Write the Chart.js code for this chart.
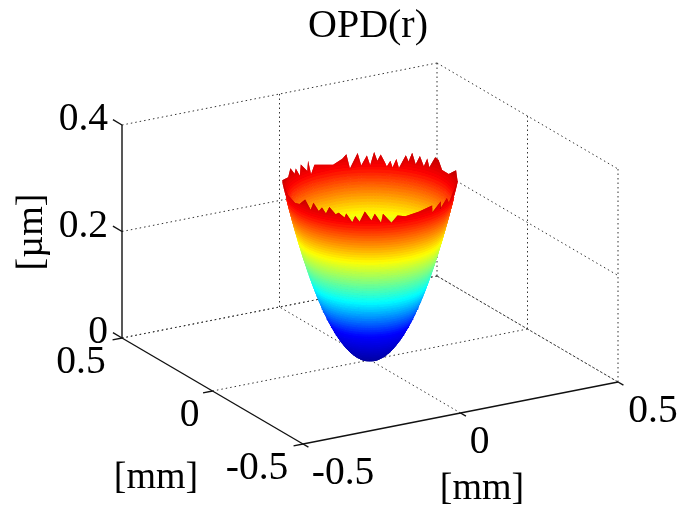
<!DOCTYPE html>
<html>
<head>
<meta charset="utf-8">
<title>OPD(r)</title>
<script src="https://cdn.jsdelivr.net/npm/chart.js@4"></script>
<style>
    html, body { margin: 0; padding: 0; background: #fff; }
    canvas { display: block; }
</style>
</head>
<body>
<canvas id="chart" width="679" height="510"></canvas>
<script>
// Axis ticks
const xTicks = [-0.5, 0, 0.5];
const yTicks = [-0.5, 0, 0.5];
const zTicks = [0, 0.2, 0.4];
const xTickLabels = ['-0.5', '0', '0.5'];
const yTickLabels = ['-0.5', '0', '0.5'];
const zTickLabels = ['0', '0.2', '0.4'];

// Bowl profile: height [um] and radius [mm] of each ring
const zLevels = [0, 0.005, 0.01, 0.015, 0.02, 0.025, 0.03, 0.035, 0.04, 0.045, 0.05, 0.055, 0.06, 0.065,
    0.07, 0.075, 0.08, 0.085, 0.09, 0.095, 0.10, 0.105, 0.11, 0.115, 0.12, 0.125, 0.13, 0.135,
    0.14, 0.145, 0.15, 0.155, 0.16, 0.165, 0.17, 0.175, 0.18, 0.185, 0.19, 0.195, 0.20, 0.205,
    0.21, 0.215, 0.22, 0.225, 0.23, 0.235, 0.24, 0.245, 0.25, 0.255, 0.26, 0.265, 0.27, 0.275,
    0.28, 0.285, 0.29, 0.295, 0.30, 0.305, 0.31, 0.315, 0.32, 0.325, 0.33, 0.335, 0.34, 0.345];
const radii = [0, 0.0295, 0.0417, 0.0511, 0.059, 0.0659, 0.0722, 0.078, 0.0834, 0.0885, 0.0933, 0.0978, 0.1021, 0.1063,
    0.1103, 0.1142, 0.118, 0.1216, 0.1251, 0.1285, 0.1319, 0.1351, 0.1383, 0.1414, 0.1445, 0.1474, 0.1504, 0.1532,
    0.156, 0.1588, 0.1615, 0.1642, 0.1668, 0.1694, 0.1719, 0.1745, 0.1769, 0.1794, 0.1818, 0.1842, 0.1865, 0.1888,
    0.1911, 0.1934, 0.1956, 0.1978, 0.2, 0.2022, 0.2043, 0.2064, 0.2085, 0.2106, 0.2126, 0.2147, 0.2167, 0.2187,
    0.2207, 0.2226, 0.2246, 0.2265, 0.2284, 0.2303, 0.2322, 0.2341, 0.2365, 0.238, 0.24, 0.2412, 0.2424, 0.2424];

// Jagged rim: position across the rim (-1 left, 1 right) and height there
const rimBackPos = [-1, -0.947, -0.909, -0.879, -0.852, -0.826, -0.795, -0.739, -0.708, -0.70, -0.644, -0.436,
    -0.322, -0.273, -0.242, -0.144, -0.106, -0.038, 0, 0.045, 0.083, 0.121, 0.17, 0.197, 0.235, 0.265, 0.303,
    0.341, 0.409, 0.447, 0.477, 0.53, 0.568, 0.625, 0.652, 0.689, 0.739, 0.777, 0.833, 0.909, 0.977, 1];
const rimBackZ = [0.338, 0.326, 0.337, 0.324, 0.331, 0.316, 0.334, 0.319, 0.335, 0.311, 0.325, 0.318,
    0.326, 0.333, 0.308, 0.334, 0.312, 0.329, 0.312, 0.335, 0.320, 0.331, 0.319, 0.311, 0.321, 0.310, 0.325,
    0.310, 0.334, 0.324, 0.340, 0.321, 0.337, 0.321, 0.336, 0.322, 0.343, 0.340, 0.326, 0.326, 0.344, 0.335];
const rimFrontPos = [-1, -0.985, -0.947, -0.871, -0.814, -0.739, -0.689, -0.644, -0.595, -0.549, -0.511, -0.462,
    -0.398, -0.36, -0.295, -0.273, -0.208, -0.17, -0.121, -0.057, 0.019, 0.057, 0.133, 0.152, 0.258, 0.322,
    0.417, 0.568, 0.72, 0.739, 0.814, 0.833, 0.89, 0.928, 0.985, 1];
const rimFrontZ = [0.338, 0.341, 0.328, 0.322, 0.325, 0.339, 0.322, 0.338, 0.324, 0.333, 0.322, 0.337,
    0.324, 0.328, 0.320, 0.328, 0.311, 0.324, 0.313, 0.334, 0.316, 0.330, 0.311, 0.329, 0.309, 0.323,
    0.319, 0.323, 0.328, 0.313, 0.330, 0.313, 0.329, 0.315, 0.341, 0.335];

// Colour of the surface at a given height
const colorZ = [0, 0.07, 0.145, 0.23, 0.31, 0.345];
const colorRGB = [[0, 0, 150], [0, 0, 255], [0, 255, 255], [255, 255, 0], [255, 0, 0], [185, 0, 0]];

// Orthographic view of the axes box, result in canvas pixels
function project(x, y, z) {
    return {
        x: 370 + 315 * x - 181 * y,
        y: 360 - 62 * x - 106 * y - 532.5 * z
    };
}

function heightColor(z) {
    let i = 0;
    while (i < colorZ.length - 2 && z > colorZ[i + 1]) i++;
    const t = (z - colorZ[i]) / (colorZ[i + 1] - colorZ[i]);
    const rgb = colorRGB[i].map((c, k) => Math.round(c + (colorRGB[i + 1][k] - c) * t));
    return `rgb(${rgb[0]},${rgb[1]},${rgb[2]})`;
}

// One ring of the bowl, cut off by the rim height
function ringPoints(level, positions, rimZ, side) {
    return positions.map((u, k) => {
        const phi = side * Math.acos(u) - Math.PI / 6;
        // a ring above the rim falls back on the last ring that still fits
        let lv = level;
        while (lv > 0 && zLevels[lv] > rimZ[k]) lv--;
        const r = radii[lv];
        return project(r * Math.cos(phi), r * Math.sin(phi), Math.min(zLevels[level], rimZ[k]));
    });
}

function strip(lower, upper, color, borderWidth) {
    return {
        data: upper.concat(lower.reverse()),
        showLine: true,
        pointRadius: 0,
        tension: 0,
        fill: 'shape',
        backgroundColor: color,
        borderColor: color,
        borderWidth: borderWidth
    };
}

function surfaceStrips(positions, rimZ, side) {
    const strips = [];
    for (let i = 0; i < zLevels.length - 1; i++) {
        const lower = ringPoints(i, positions, rimZ, side);
        const upper = ringPoints(i + 1, positions, rimZ, side);
        const color = heightColor((zLevels[i] + zLevels[i + 1]) / 2);
        // no border where the rim cuts the ring, it would outline the spikes
        strips.push(strip(lower, upper, color, zLevels[i] < 0.305 ? 1 : 0));
    }
    // red underlay below the cut rings so no gaps show between them
    const base = zLevels.indexOf(0.30);
    const top = zLevels.length - 1;
    const underlay = strip(ringPoints(base, positions, rimZ, side), ringPoints(top, positions, rimZ, side), '#e60000', 0);
    strips.splice(base, 0, underlay);
    return strips;
}

function boxLine(from, to, solid) {
    return {
        data: [project(...from), project(...to)],
        showLine: true,
        pointRadius: 0,
        tension: 0,
        fill: false,
        borderColor: solid ? '#111' : '#333',
        borderWidth: solid ? 1.4 : 1,
        borderDash: solid ? [] : [1.5, 3]
    };
}

// Dotted grid on the floor and the two back walls
function gridLines() {
    const lines = [];
    xTicks.forEach(x => {
        if (x > -0.5) {
            lines.push(boxLine([x, -0.5, 0], [x, 0.5, 0]));
            lines.push(boxLine([x, 0.5, 0], [x, 0.5, 0.4]));
        }
    });
    yTicks.forEach(y => {
        if (y > -0.5) {
            lines.push(boxLine([-0.5, y, 0], [0.5, y, 0]));
        }
        if (y < 0.5) {
            lines.push(boxLine([0.5, y, 0], [0.5, y, 0.4]));
        }
    });
    zTicks.forEach(z => {
        lines.push(boxLine([-0.5, 0.5, z], [0.5, 0.5, z]));
        lines.push(boxLine([0.5, 0.5, z], [0.5, -0.5, z]));
    });
    return lines;
}

// Solid axes with their little tick marks
function axisLines() {
    const lines = [
        boxLine([-0.5, -0.5, 0], [0.5, -0.5, 0], true),
        boxLine([-0.5, -0.5, 0], [-0.5, 0.5, 0], true),
        boxLine([-0.5, 0.5, 0], [-0.5, 0.5, 0.4], true)
    ];
    xTicks.forEach(x => lines.push(boxLine([x, -0.5, 0], [x, -0.53, 0], true)));
    yTicks.forEach(y => lines.push(boxLine([-0.5, y, 0], [-0.53, y, 0], true)));
    zTicks.forEach(z => lines.push(boxLine([-0.5, 0.5, z], [-0.5, 0.55, z], true)));
    return lines;
}

// Tick labels and axis names sit around the box, chart.js has no 3d axes for this
const axisText = {
    id: 'axisText',
    afterDatasetsDraw(chart) {
        const ctx = chart.ctx;
        const label = (text, px, py, align) => {
            ctx.textAlign = align || 'center';
            ctx.fillText(text, px, py);
        };
        ctx.save();
        ctx.fillStyle = '#000';
        ctx.textBaseline = 'middle';
        ctx.font = '39.5px "Liberation Serif"';
        const xOffsets = [[40, 30], [19, 30], [35, 30]];
        xTicks.forEach((x, i) => {
            const p = project(x, -0.5, 0);
            label(xTickLabels[i], p.x + xOffsets[i][0], p.y + xOffsets[i][1]);
        });
        const yOffsets = [[-46, 25], [-23, 25], [-41, 25]];
        yTicks.forEach((y, i) => {
            const p = project(-0.5, y, 0);
            label(yTickLabels[i], p.x + yOffsets[i][0], p.y + yOffsets[i][1]);
        });
        zTicks.forEach((z, i) => {
            const p = project(-0.5, 0.5, z);
            label(zTickLabels[i], p.x - 14, p.y - 5, 'right');
        });
        ctx.font = '38px "Liberation Serif"';
        label('[mm]', 156, 478);
        label('[mm]', 482, 489);
        ctx.translate(32, 232);
        ctx.rotate(-Math.PI / 2);
        label('[\u00b5m]', 0, 0);
        ctx.restore();
    }
};

// Later entries paint on top
const datasets = [
    ...gridLines(),
    ...axisLines(),
    ...surfaceStrips(rimBackPos, rimBackZ, 1),
    ...surfaceStrips(rimFrontPos, rimFrontZ, -1)
];
datasets.forEach((ds, i) => { ds.order = -i; });

const TITLE_HEIGHT = 56;
const LEFT_PAD = 57; // moves the centred title over the box

new Chart(document.getElementById('chart').getContext('2d'), {
    type: 'scatter',
    data: { datasets: datasets },
    plugins: [axisText],
    options: {
        responsive: false,
        animation: false,
        events: [],
        layout: { padding: { left: LEFT_PAD } },
        plugins: {
            legend: { display: false },
            tooltip: { enabled: false },
            title: {
                display: true,
                text: 'OPD(r)',
                color: '#000',
                padding: { top: 2, bottom: 6 },
                font: { family: '"Liberation Serif"', size: 40, weight: 'normal', lineHeight: 1.2 }
            }
        },
        scales: {
            x: { type: 'linear', display: false, min: LEFT_PAD, max: 679 },
            y: { type: 'linear', display: false, reverse: true, min: TITLE_HEIGHT, max: 510 }
        }
    }
});
</script>
</body>
</html>
